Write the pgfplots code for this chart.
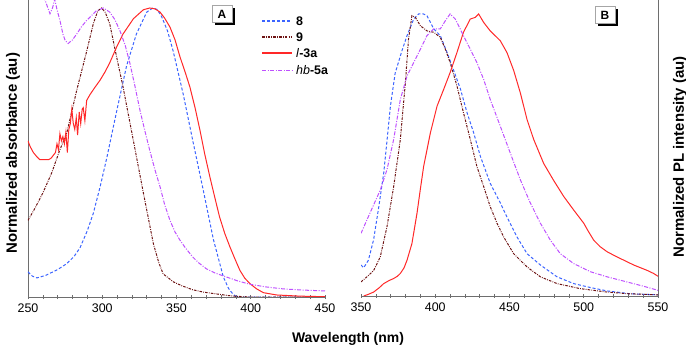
\documentclass[border=0pt]{standalone}
\usepackage{pgfplots}
\pgfplotsset{compat=1.18}
\usepackage{fontspec}
\setmainfont{Liberation Sans}
\usetikzlibrary{shadows}
\definecolor{cblue}{RGB}{60,100,255}
\definecolor{cbrown}{RGB}{110,20,20}
\definecolor{cred}{RGB}{255,40,40}
\definecolor{cpurple}{RGB}{190,80,255}
\definecolor{axgray}{RGB}{110,110,110}
\tikzset{
  s8/.style={color=cblue, line width=1bp, dash pattern=on 3bp off 2bp},
  s9/.style={color=cbrown, line width=1bp, dash pattern=on 2.5bp off 1.2bp on 0.8bp off 1.2bp},
  s3/.style={color=cred, line width=1bp, solid},
  s5/.style={color=cpurple, line width=1bp, dash pattern=on 4bp off 1.5bp on 1bp off 1.5bp},
  legtxt/.style={anchor=west, inner sep=0pt, font=\fontsize{12.5}{14}\selectfont},
}
\pgfplotsset{
  every axis/.append style={
    scale only axis, width=297bp, height=297bp,
    axis line style={axgray, line width=0.9bp},
    tick style={axgray, line width=0.7bp},
    tick align=outside, major tick length=4bp, minor tick length=4bp,
    minor x tick num=4, ytick=\empty,
    ymin=0,
    tick label style={font=\fontsize{12.5}{14}\selectfont},
    /pgf/number format/assume math mode=true,
    xticklabel style={yshift=-1bp},
  },
}
\begin{document}
\begin{tikzpicture}
\useasboundingbox (0,0) rectangle (686bp,347bp);
% Panel A
\begin{axis}[at={(28bp,50bp)}, anchor=south west,
  axis x line=bottom, axis y line=left, axis line style={-},
  xmin=250, xmax=450, ymax=1.0277, xtick={250,300,...,450},
]
\addplot[s8] coordinates {(250,0.087)(253,0.072)(256,0.066)(262,0.075)(270,0.095)(276,0.115)(281,0.14)(285,0.17)(290,0.23)(294,0.29)(298.5,0.38)(303,0.48)(310,0.65)(316.4,0.80)(323,0.91)(330,0.986)(334,1.0)(337,0.995)(340,0.97)(344,0.92)(347.8,0.85)(354.6,0.70)(361,0.54)(368,0.37)(374.8,0.20)(381.5,0.07)(385,0.03)(388,0.01)(390.5,0)(450,0)};
\addplot[s9] coordinates {(250,0.265)(255,0.31)(260,0.36)(266,0.43)(271.5,0.51)(276,0.565)(282.8,0.715)(289.5,0.85)(294,0.946)(297,0.99)(299.6,1.0)(302,0.985)(305,0.946)(309.7,0.83)(314,0.727)(321,0.54)(327.7,0.36)(334.4,0.185)(338,0.12)(341,0.08)(348,0.052)(354,0.038)(361,0.025)(368,0.017)(374.8,0.012)(388,0.003)(400,0)(450,0)};
\addplot[s3] coordinates {(250,0.54)(251.5,0.52)(253.6,0.50)(256,0.485)(258,0.475)(263.7,0.475)(265.5,0.48)(267,0.49)(268.5,0.50)(269.5,0.53)(270.5,0.51)(271.5,0.565)(272.5,0.54)(273.5,0.555)(274.5,0.53)(275.5,0.57)(276.5,0.50)(277.5,0.58)(278.5,0.60)(279.5,0.65)(280.5,0.60)(281.5,0.58)(282.5,0.62)(283.4,0.56)(284.5,0.64)(285.5,0.60)(286.5,0.65)(287.2,0.655)(288.3,0.61)(289.5,0.68)(291.7,0.70)(295,0.725)(298.5,0.75)(302,0.78)(305,0.81)(309.7,0.865)(314,0.91)(321,0.963)(327.7,0.994)(332,1.0)(335.5,0.997)(338.9,0.986)(342,0.965)(345.6,0.934)(349,0.89)(352.4,0.83)(355.7,0.78)(359,0.727)(362.5,0.655)(365.8,0.577)(369,0.495)(372.5,0.415)(376,0.34)(379,0.277)(382.5,0.22)(386,0.173)(389.5,0.13)(392.7,0.092)(396,0.065)(399.5,0.046)(404,0.028)(408.5,0.015)(417.4,0.007)(433,0.003)(450,0.001)};
\addplot[s5] coordinates {(260.3,1.04)(262,1.02)(264.8,0.98)(266.5,1.0)(268,1.03)(269.5,0.995)(271.5,0.957)(273.5,0.91)(275,0.888)(277,0.877)(280,0.89)(282.8,0.91)(286,0.935)(289.5,0.957)(293,0.975)(296,0.99)(300.7,1.0)(305,0.986)(308.5,0.96)(312,0.92)(315.5,0.87)(318.7,0.807)(322,0.73)(325.4,0.646)(328.7,0.575)(332,0.507)(335.5,0.44)(339,0.38)(342,0.32)(345.6,0.265)(349,0.225)(352.4,0.196)(356,0.17)(361,0.138)(365,0.118)(370,0.098)(376,0.083)(383.8,0.069)(391,0.056)(399.5,0.044)(410,0.035)(421.9,0.028)(435,0.024)(450,0.021)};
% legend keys
\addplot[s8, line width=1.2bp] coordinates {(407.6,0.955)(427.8,0.955)};
\addplot[s9, line width=1.2bp] coordinates {(407.6,0.900)(427.8,0.900)};
\addplot[s3, line width=1.2bp] coordinates {(407.6,0.844)(427.8,0.844)};
\addplot[s5, line width=1.2bp] coordinates {(407.6,0.785)(427.8,0.785)};
\coordinate (L1) at (axis cs:430.5,0.955);
\coordinate (L2) at (axis cs:430.5,0.900);
\coordinate (L3) at (axis cs:430.5,0.844);
\coordinate (L4) at (axis cs:430.5,0.785);
\end{axis}
\node[legtxt] at (L1) {\textbf{8}};
\node[legtxt] at (L2) {\textbf{9}};
\node[legtxt] at (L3) {\textit{l}\textbf{-3a}};
\node[legtxt] at (L4) {\textit{hb}\textbf{-5a}};
% Panel B
\begin{axis}[at={(361bp,51bp)}, anchor=south west,
  axis x line=bottom, axis y line=right, axis line style={-},
  xmin=350, xmax=550, ymax=1.053, xtick={350,400,...,550},
]
\addplot[s8] coordinates {(350,0.11)(351.8,0.10)(355,0.127)(358.5,0.20)(362,0.317)(365.3,0.436)(367.5,0.55)(369.8,0.673)(373,0.79)(377.6,0.87)(381,0.923)(385.5,0.982)(388.8,1.0)(392,1.0)(394.4,0.994)(399,0.947)(403.4,0.923)(408,0.863)(412.4,0.80)(417,0.733)(421.4,0.65)(425.9,0.578)(430.4,0.495)(437,0.40)(443.8,0.33)(448.3,0.28)(455,0.21)(461.8,0.15)(470.8,0.11)(482,0.068)(493.2,0.044)(504.5,0.03)(515.7,0.018)(531.3,0.008)(550,0.004)};
\addplot[s9] coordinates {(350,0.05)(354,0.068)(358.5,0.09)(363,0.139)(367.5,0.246)(372,0.388)(376.5,0.555)(379.9,0.757)(382,0.911)(384.3,0.994)(386.6,0.988)(390,0.958)(394.4,0.94)(399,0.935)(403.4,0.917)(406.8,0.875)(410,0.828)(414.6,0.745)(419,0.65)(423.6,0.555)(428,0.46)(432.6,0.388)(437,0.317)(441.6,0.258)(446,0.21)(452.8,0.15)(461.8,0.103)(470.8,0.068)(482,0.044)(497.7,0.026)(515.7,0.014)(530,0.008)(550,0.004)};
\addplot[s3] coordinates {(351.8,0)(355,0.006)(358.5,0.014)(362,0.028)(365.3,0.044)(369,0.055)(372,0.062)(374.5,0.07)(376.5,0.08)(379,0.1)(381,0.127)(384.3,0.186)(387.7,0.293)(390,0.38)(392.2,0.46)(394.5,0.52)(396.7,0.578)(401.2,0.673)(405.7,0.733)(410,0.792)(414.6,0.863)(419,0.935)(423.6,0.982)(427,0.988)(429.2,1.0)(432.6,0.97)(437,0.94)(443.8,0.905)(448.3,0.863)(452.8,0.80)(457.3,0.72)(461.8,0.626)(466.3,0.555)(473,0.47)(479.7,0.41)(486.5,0.353)(493.2,0.305)(500,0.258)(503,0.23)(506.7,0.198)(511,0.175)(515.7,0.157)(520,0.145)(524.6,0.133)(533.6,0.11)(542.6,0.091)(547,0.08)(550,0.07)};
\addplot[s5] coordinates {(350,0.222)(354,0.27)(358.5,0.323)(363,0.376)(367.5,0.448)(372,0.555)(376.5,0.697)(381,0.78)(385.5,0.828)(390,0.875)(394.4,0.923)(399,0.947)(403.4,0.947)(406.8,0.976)(410,1.0)(413.5,0.982)(419,0.923)(423.6,0.875)(428,0.828)(432.6,0.768)(437,0.697)(443.8,0.602)(450.5,0.507)(457.3,0.412)(464,0.33)(470.8,0.258)(477.5,0.198)(484.2,0.15)(493.2,0.115)(504.5,0.086)(515.7,0.068)(529,0.05)(540,0.035)(550,0.02)};
\end{axis}
% panel letters
\node[draw=gray!70, fill=white, line width=0.6bp, minimum width=20bp, minimum height=17bp, inner sep=0pt,
  drop shadow={opacity=1, fill=black, shadow xshift=3bp, shadow yshift=-3bp},
  font=\bfseries\fontsize{12}{14}\selectfont] at (222bp,333bp) {A};
\node[draw=gray!70, fill=white, line width=0.6bp, minimum width=20bp, minimum height=17bp, inner sep=0pt,
  drop shadow={opacity=1, fill=black, shadow xshift=3bp, shadow yshift=-3bp},
  font=\bfseries\fontsize{12}{14}\selectfont] at (605bp,332bp) {B};
% axis titles
\node[font=\bfseries\fontsize{14}{16}\selectfont] at (348bp,8bp) {Wavelength (nm)};
\node[rotate=90, font=\bfseries\fontsize{15}{17}\selectfont] at (13bp,194bp) {Normalized absorbance (au)};
\node[rotate=90, font=\bfseries\fontsize{15}{17}\selectfont] at (680bp,190bp) {Normalized PL intensity (au)};
\end{tikzpicture}
\end{document}
